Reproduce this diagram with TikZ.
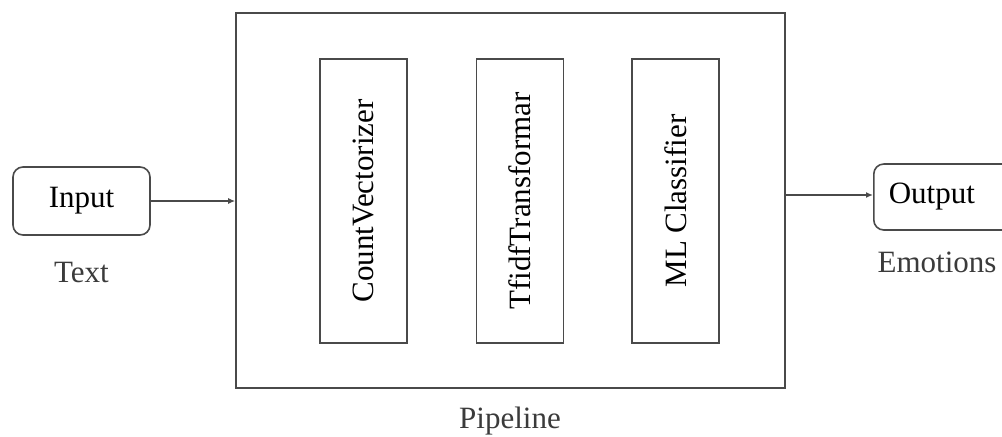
\documentclass[tikz,border=0pt]{standalone}
\usepackage{fontspec}
\setmainfont{Liberation Serif}
\usetikzlibrary{arrows.meta,positioning}
\definecolor{Ink}{HTML}{4A4A4A}

\begin{document}
\begin{tikzpicture}[x=0.5pt, y=-0.5pt, font=\fontsize{15.5}{18}\selectfont, >={Latex[length=3.5pt,width=3pt]}, node distance=34pt]
\tikzset{box/.style={draw=Ink, line width=0.8pt, rounded corners=5pt, minimum height=34pt, inner sep=0pt}, stage/.style={draw=Ink, line width=0.8pt, minimum width=43.5pt, minimum height=142pt, inner sep=0pt}, tag/.style={text=Ink!80!black, inner sep=1pt}}
\clip (0,0) rectangle (1002,436);
\fill[white] (0,0) rectangle (1002,436);
\node[draw=Ink, line width=0.8pt, minimum width=274.5pt, minimum height=187.5pt] (pipe) at (510.5,200.5) {};
\node[stage] (count) at (363.5,201) {\rotatebox{90}{CountVectorizer}};
\node[stage, right=of count] (tfidf) {\rotatebox{90}{TfidfTransformar}};
\node[stage, right=33.5pt of tfidf] (clf) {\rotatebox{90}{ML Classifier}};
\node[tag] (pipename) at (510,421) {Pipeline};
\node[box, minimum width=68.5pt] (inp) at (81.5,201) {Input};
\node[tag, below=12pt of inp] (txt) {Text};
\node[box, anchor=west, minimum height=33pt, inner xsep=7.5pt, text width=58pt, align=left] (out) at (873,197) {Output};
\node[tag] (emo) at (937,262) {Emotions};
\draw[->, Ink, line width=0.8pt] (inp.east) -- (inp.east -| pipe.west);
\draw[->, Ink, line width=0.8pt] (pipe.east |- 0,195) -- (out.west |- 0,195);
\end{tikzpicture}
\end{document}
